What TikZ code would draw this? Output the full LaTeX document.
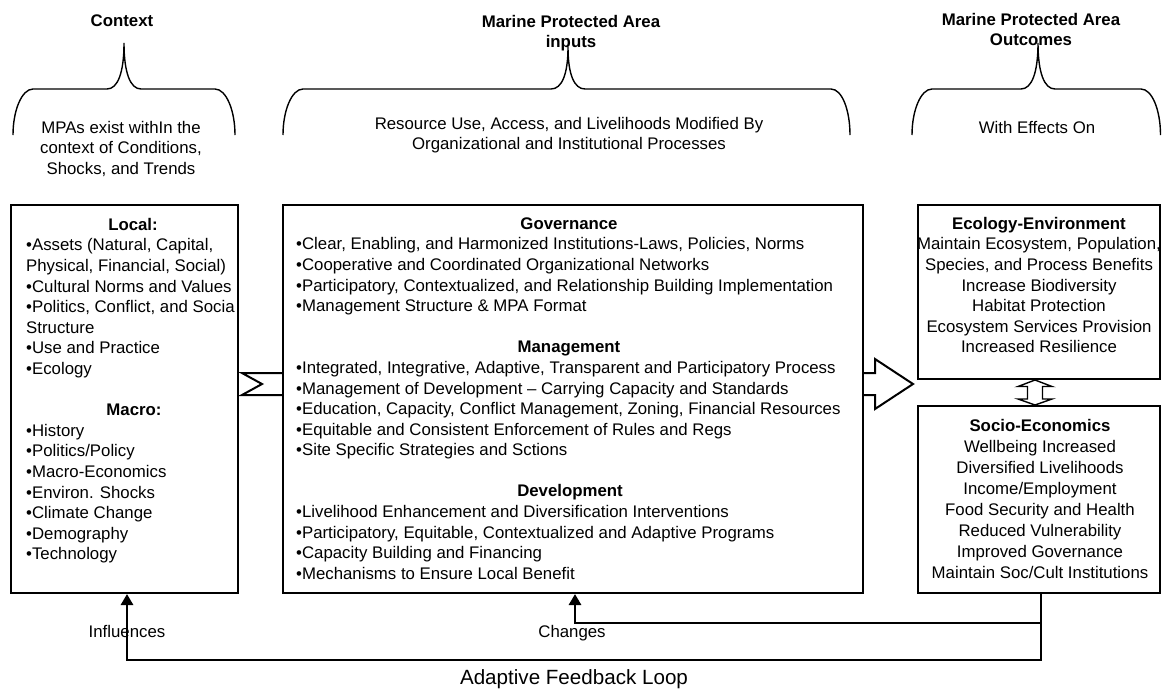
\documentclass[tikz,border=0pt]{standalone}
\usepackage{fontspec}
\setmainfont{Liberation Sans}
\usetikzlibrary{arrows.meta}
\begin{document}
\begin{tikzpicture}[x=1pt,y=-1pt,
  box/.style={draw,line width=2pt,fill=white,inner sep=0pt},
  txt/.style={inner sep=0pt,font=\fontsize{16.8}{20.6}\selectfont},
  blk/.style={txt,align=left,anchor=north west},
  cblk/.style={txt,align=center,anchor=north},
  head/.style={txt,font=\fontsize{16.8}{20.6}\selectfont\bfseries,anchor=base},
  plain/.style={txt,anchor=base},
  brace/.style={line width=1.4pt},
  fb/.style={line width=2.8pt,-{Triangle[width=12pt,length=11pt]}},
  blockarrow/.style={line width=2pt,fill=white,line join=miter},
]
\useasboundingbox (0,0) rectangle (1162,689);

% titles
\node[head] (tC) at (122,26) {Context};
\node[cblk,font=\fontsize{16.8}{20.6}\selectfont\bfseries] (tI) at (571,12.58) {\strut Marine Protected Area\\inputs};
\node[cblk,font=\fontsize{16.8}{20.6}\selectfont\bfseries] (tO) at (1031,10.58) {\strut Marine Protected Area\\Outcomes};

% braces
\draw[brace] (13,135) .. controls (13,110) and (22,89) .. (33,89) -- (107,89)
  .. controls (118,89) and (124,72) .. (124,43)
  .. controls (124,72) and (130,89) .. (141,89) -- (215,89)
  .. controls (226,89) and (235,110) .. (235,135);
\draw[brace] (283,135) .. controls (283,110) and (292,89) .. (303,89) -- (551,89)
  .. controls (562,89) and (568,74) .. (568,47)
  .. controls (568,74) and (574,89) .. (585,89) -- (831,89)
  .. controls (842,89) and (850,110) .. (850,135);
\draw[brace] (912,135) .. controls (912,110) and (921,89) .. (932,89) -- (1021,89)
  .. controls (1032,89) and (1038,72) .. (1038,43)
  .. controls (1038,72) and (1044,89) .. (1055,89) -- (1141,89)
  .. controls (1152,89) and (1160.5,110) .. (1160.5,135);

% brace texts
\node[cblk] (sC) at (121,118.58) {\strut MPAs exist withIn the\\context of Conditions,\\Shocks, and Trends};
\node[cblk] (sI) at (569,114.58) {\strut Resource Use, Access, and Livelihoods Modified By\\Organizational and Institutional Processes};
\node[plain] (sO) at (1037,133) {With Effects On};

% block arrow (behind middle box)
\draw[blockarrow] (242,373) -- (875,373) -- (875,359) -- (913,384) -- (875,409)
  -- (875,395) -- (242,395) -- (262,384) -- cycle;

% right top box text (drawn before its border, which covers the wide line)
\node[cblk] (tE) at (1039,214.58) {\strut\textbf{Ecology-Environment}\\Maintain Ecosystem, Population,\\Species, and Process Benefits\\Increase Biodiversity\\Habitat Protection\\Ecosystem Services Provision\\Increased Resilience};

% boxes
\node[box,minimum width=227pt,minimum height=388pt] (L) at (124.5,399) {};
\node[box,minimum width=580pt,minimum height=388pt] (M) at (573,399) {};
\node[box,fill=none,minimum width=242pt,minimum height=174pt] (RT) at (1039,292) {};
\node[box,minimum width=242pt,minimum height=187pt] (RB) at (1039,499.5) {};

% double arrow between right boxes
\draw[line width=1.4pt,line join=miter] (1035,380) -- (1052,386.5) -- (1042.5,386.5) -- (1042.5,399)
  -- (1052,399) -- (1035,405) -- (1018,399) -- (1027.5,399) -- (1027.5,386.5)
  -- (1018,386.5) -- cycle;

% left box text
\node[head] (hL) at (133,230) {Local:};
\node[blk] (bL) at (26,236.18) {\strut •Assets (Natural, Capital,\\Physical, Financial, Social)\\•Cultural Norms and Values\\•Politics, Conflict, and Socia\\Structure\\•Use and Practice\\•Ecology};
\node[head] (hM) at (134,415.4) {Macro:};
\node[blk] (bM) at (26,421.58) {\strut •History\\•Politics/Policy\\•Macro-Economics\\•Environ. Shocks\\•Climate Change\\•Demography\\•Technology};

% middle box text
\node[head] (hG) at (569,229) {Governance};
\node[blk] (bG) at (296,235.18) {\strut •Clear, Enabling, and Harmonized Institutions-Laws, Policies, Norms\\•Cooperative and Coordinated Organizational Networks\\•Participatory, Contextualized, and Relationship Building Implementation\\•Management Structure \& MPA Format};
\node[head] (hMa) at (569,352.6) {Management};
\node[blk] (bMa) at (296,358.78) {\strut •Integrated, Integrative, Adaptive, Transparent and Participatory Process\\•Management of Development – Carrying Capacity and Standards\\•Education, Capacity, Conflict Management, Zoning, Financial Resources\\•Equitable and Consistent Enforcement of Rules and Regs\\•Site Specific Strategies and Sctions};
\node[head] (hD) at (570,496.8) {Development};
\node[blk] (bD) at (296,502.98) {\strut •Livelihood Enhancement and Diversification Interventions\\•Participatory, Equitable, Contextualized and Adaptive Programs\\•Capacity Building and Financing\\•Mechanisms to Ensure Local Benefit};

% right bottom box text
\node[cblk,font=\fontsize{16.8}{21.1}\selectfont] (tS) at (1040,416.23) {\strut\textbf{Socio-Economics}\\Wellbeing Increased\\Diversified Livelihoods\\Income/Employment\\Food Security and Health\\Reduced Vulnerability\\Improved Governance\\Maintain Soc/Cult Institutions};

% feedback loops
\draw[fb] ([xshift=2pt]RB.south) -- ++(0,66) -| ([xshift=2.5pt]L.south);
\draw[fb] ([xshift=2pt]RB.south) ++(0,29) -| ([xshift=2pt]M.south);

\node[plain] (lI) at (127,637) {Influences};
\node[plain] (lCh) at (572,637) {Changes};
\node[plain,font=\fontsize{20.6}{24}\selectfont] (lA) at (574,684) {Adaptive Feedback Loop};
\end{tikzpicture}
\end{document}
